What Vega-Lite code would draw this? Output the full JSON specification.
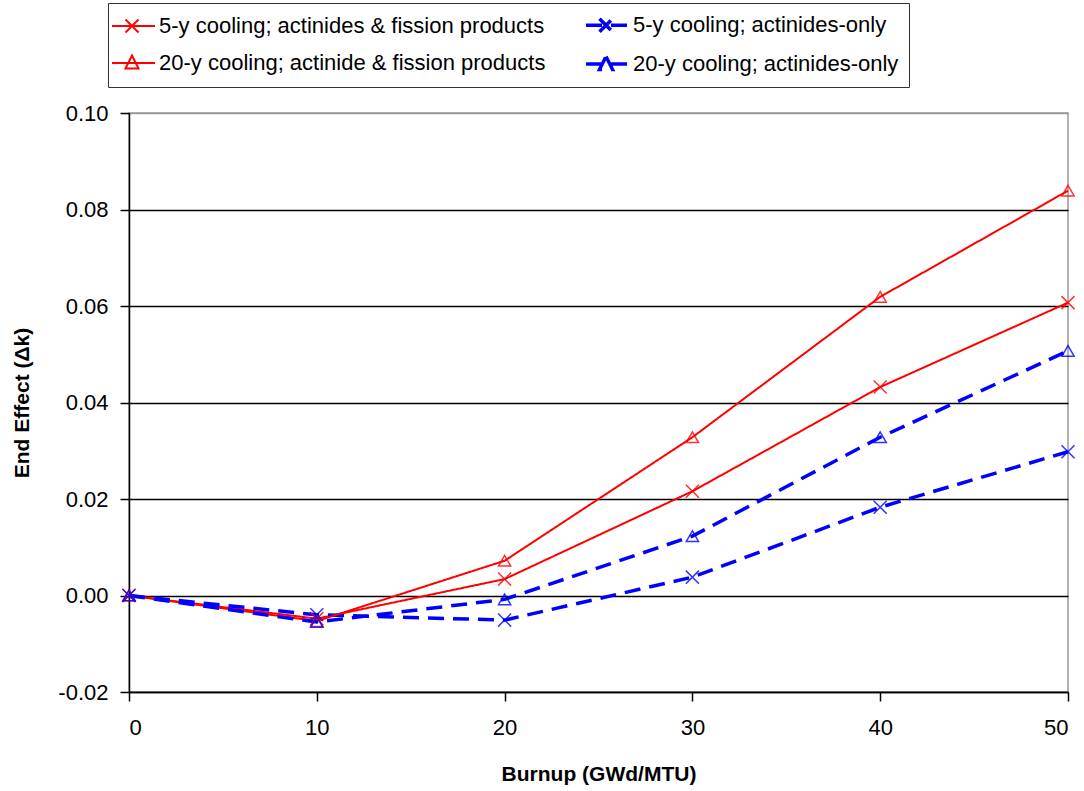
{
  "$schema": "https://vega.github.io/schema/vega-lite/v6.json",
  "width": 939,
  "height": 579,
  "autosize": {"type": "none"},
  "padding": {"left": 129, "top": 113, "right": 16, "bottom": 99},
  "background": "white",
  "config": {
    "font": "Liberation Sans",
    "view": {"stroke": "#999999", "strokeWidth": 1.5},
    "axis": {"labelFont": "Liberation Sans", "titleFont": "Liberation Sans", "labelColor": "black", "titleColor": "black", "labelFontSize": 22, "titleFontSize": 21, "titleFontWeight": "bold", "domainColor": "black", "tickColor": "black", "domainWidth": 1.5, "tickWidth": 1.5}
  },
  "data": {
    "values": [
      {"burnup": 0, "dk": 0, "series": "5-y cooling; actinides & fission products"},
      {"burnup": 10, "dk": -0.0048, "series": "5-y cooling; actinides & fission products"},
      {"burnup": 20, "dk": 0.0034, "series": "5-y cooling; actinides & fission products"},
      {"burnup": 30, "dk": 0.0216, "series": "5-y cooling; actinides & fission products"},
      {"burnup": 40, "dk": 0.0432, "series": "5-y cooling; actinides & fission products"},
      {"burnup": 50, "dk": 0.0607, "series": "5-y cooling; actinides & fission products"},
      {"burnup": 0, "dk": 0, "series": "5-y cooling; actinides-only"},
      {"burnup": 10, "dk": -0.0040, "series": "5-y cooling; actinides-only"},
      {"burnup": 20, "dk": -0.0051, "series": "5-y cooling; actinides-only"},
      {"burnup": 30, "dk": 0.0038, "series": "5-y cooling; actinides-only"},
      {"burnup": 40, "dk": 0.0183, "series": "5-y cooling; actinides-only"},
      {"burnup": 50, "dk": 0.0298, "series": "5-y cooling; actinides-only"},
      {"burnup": 0, "dk": 0, "series": "20-y cooling; actinide & fission products"},
      {"burnup": 10, "dk": -0.0053, "series": "20-y cooling; actinide & fission products"},
      {"burnup": 20, "dk": 0.0072, "series": "20-y cooling; actinide & fission products"},
      {"burnup": 30, "dk": 0.0328, "series": "20-y cooling; actinide & fission products"},
      {"burnup": 40, "dk": 0.0619, "series": "20-y cooling; actinide & fission products"},
      {"burnup": 50, "dk": 0.0839, "series": "20-y cooling; actinide & fission products"},
      {"burnup": 0, "dk": 0, "series": "20-y cooling; actinides-only"},
      {"burnup": 10, "dk": -0.0055, "series": "20-y cooling; actinides-only"},
      {"burnup": 20, "dk": -0.0008, "series": "20-y cooling; actinides-only"},
      {"burnup": 30, "dk": 0.0123, "series": "20-y cooling; actinides-only"},
      {"burnup": 40, "dk": 0.0328, "series": "20-y cooling; actinides-only"},
      {"burnup": 50, "dk": 0.0507, "series": "20-y cooling; actinides-only"}
    ]
  },
  "encoding": {
    "x": {
      "field": "burnup", "type": "quantitative",
      "scale": {"domain": [0, 50], "nice": false, "zero": false},
      "axis": {"title": "Burnup (GWd/MTU)", "values": [0, 10, 20, 30, 40, 50], "grid": false, "tickSize": 9, "labelPadding": 16, "titlePadding": 25}
    },
    "y": {
      "field": "dk", "type": "quantitative",
      "scale": {"domain": [-0.02, 0.1], "nice": false, "zero": false},
      "axis": {
        "title": "End Effect (Δk)", "values": [-0.02, 0, 0.02, 0.04, 0.06, 0.08, 0.1],
        "labelExpr": "datum.value < 0 ? '-' + format(-datum.value, '.2f') : format(datum.value, '.2f')",
        "grid": true,
        "gridColor": {"condition": {"test": "datum.value > 0.09", "value": "#999999"}, "value": "black"},
        "gridWidth": 1.5, "gridOpacity": 1, "tickSize": 9, "labelPadding": 12, "titlePadding": 25
      }
    },
    "color": {
      "field": "series", "type": "nominal",
      "scale": {
        "domain": ["5-y cooling; actinides & fission products", "20-y cooling; actinide & fission products", "5-y cooling; actinides-only", "20-y cooling; actinides-only"],
        "range": ["#ff0000", "#ff0000", "#0000ff", "#0000ff"]
      },
      "legend": {
        "title": null, "orient": "none", "legendX": -21, "legendY": -110,
        "direction": "vertical", "columns": 2, "columnPadding": 33, "rowPadding": 10,
        "strokeColor": "#333333", "padding": 10, "fillColor": "white",
        "labelFont": "Liberation Sans", "labelFontSize": 22, "labelColor": "black", "labelLimit": 600,
        "symbolSize": 400, "symbolStrokeWidth": 2.5, "labelOffset": 17,
        "symbolType": "M-1.8,0L2.5,0",
        "encode": {
          "symbols": {
            "update": {
              "shape": {"signal": "indexof(datum.value, '20-y') === 0 ? 'M-1.8,0L2.5,0M0.2,-0.75L0.85,0.55L-0.45,0.55Z' : 'M-1.8,0L2.5,0M-0.45,-0.65L0.85,0.65M-0.45,0.65L0.85,-0.65'"},
              "fill": {"value": "transparent"}
            }
          }
        }
      }
    }
  },
  "layer": [
    {
      "mark": {"type": "line", "clip": false},
      "encoding": {
        "strokeDash": {
          "field": "series", "type": "nominal",
          "scale": {
            "domain": ["5-y cooling; actinides & fission products", "20-y cooling; actinide & fission products", "5-y cooling; actinides-only", "20-y cooling; actinides-only"],
            "range": [[1, 0], [1, 0], [16, 9], [16, 9]]
          }
        },
        "strokeWidth": {
          "field": "series", "type": "nominal",
          "scale": {
            "type": "ordinal",
            "domain": ["5-y cooling; actinides & fission products", "20-y cooling; actinide & fission products", "5-y cooling; actinides-only", "20-y cooling; actinides-only"],
            "range": [2, 2, 3.5, 3.5]
          },
          "legend": null
        }
      }
    },
    {
      "transform": [{"filter": "indexof(datum.series, '5-y') === 0"}],
      "mark": {"type": "point", "filled": false, "strokeWidth": 1.5, "opacity": 0.8, "clip": false, "shape": "M-1,-1L1,1M-1,1L1,-1", "size": 170}
    },
    {
      "transform": [{"filter": "indexof(datum.series, '20-y') === 0"}],
      "mark": {"type": "point", "filled": false, "strokeWidth": 1.5, "opacity": 0.8, "clip": false, "shape": "triangle-up", "size": 150}
    }
  ]
}
